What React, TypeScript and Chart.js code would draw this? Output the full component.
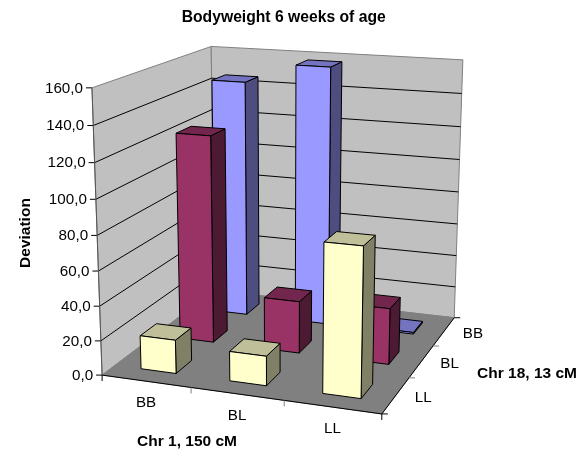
import React, { useEffect, useRef } from "react";
import { Chart, BarController, BarElement, CategoryScale, LinearScale, Title } from "chart.js";

// Data
const chr1Categories = ["BB", "BL", "LL"];
const chr18Rows = ["LL", "BL", "BB"]; // front to back
const llValues = [19.5, 17, 84];
const blValues = [123.5, 31, 33];
const bbValues = [145.5, 157.5, 1];
const FONT = "'Liberation Sans', Arial, sans-serif";

// Camera calibration: positions in the unit cube (u, v, w) and where they land on the page
const calib: number[][] = [
  [0, 0, 0, 101.5, 375],
  [1, 0, 0, 381.7, 414],
  [1, 1, 0, 454, 317],
  [0, 1, 0, 206, 291],
  [0, 0, 1, 92, 87],
  [0, 1, 1, 211, 47],
  [1, 1, 1, 463, 60],
  [1 / 3, 0, 0, 190.7, 387.5],
  [2 / 3, 0, 0, 283.6, 400.5],
  [1, 1 / 3, 0, 410, 378],
  [1, 2 / 3, 0, 433, 346],
  [0.1, 0.1, 0, 140.7, 368.3],
  [0.2333, 0.1, 0, 176, 373.3],
  [0.4333, 0.1, 0, 229.3, 381.7],
  [0.5667, 0.1, 0, 266.7, 386],
  [0.7667, 0.1, 0, 322, 394],
  [0.9, 0.1, 0, 360.7, 398.3],
  [0.2333, 0.4333, 0, 213.3, 341.7],
  [0.4333, 0.4333, 0, 264.3, 350],
  [0.5667, 0.4333, 0, 299, 352.7],
  [0.9, 0.4333, 0, 388.3, 364.3],
  [0.1, 0.7667, 0, 227, 311],
  [0.2333, 0.7667, 0, 246.7, 312.7],
];

function solveCamera(points: number[][]) {
  const rows: number[][] = [];
  for (const [u, v, w, x, y] of points) {
    rows.push([u, v, w, 1, 0, 0, 0, 0, -x * u, -x * v, -x * w, x]);
    rows.push([0, 0, 0, 0, u, v, w, 1, -y * u, -y * v, -y * w, y]);
  }
  const n = 11;
  const M: number[][] = [];
  for (let i = 0; i < n; i++) {
    const r = new Array(n + 1).fill(0);
    for (let j = 0; j <= n; j++) for (const row of rows) r[j] += row[i] * row[j];
    M.push(r);
  }
  for (let c = 0; c < n; c++) {
    let p = c;
    for (let i = c + 1; i < n; i++) if (Math.abs(M[i][c]) > Math.abs(M[p][c])) p = i;
    [M[c], M[p]] = [M[p], M[c]];
    for (let i = 0; i < n; i++) {
      if (i === c) continue;
      const f = M[i][c] / M[c][c];
      for (let j = c; j <= n; j++) M[i][j] -= f * M[c][j];
    }
  }
  return M.map((r, i) => r[n] / r[i]);
}
const cam = solveCamera(calib);
function project(u: number, v: number, w: number): [number, number] {
  const d = cam[8] * u + cam[9] * v + cam[10] * w + 1;
  return [
    (cam[0] * u + cam[1] * v + cam[2] * w + cam[3]) / d,
    (cam[4] * u + cam[5] * v + cam[6] * w + cam[7]) / d,
  ];
}

function poly(ctx: CanvasRenderingContext2D, pts: [number, number][], fill: string, stroke: string) {
  ctx.beginPath();
  pts.forEach((p, i) => (i ? ctx.lineTo(p[0], p[1]) : ctx.moveTo(p[0], p[1])));
  ctx.closePath();
  ctx.fillStyle = fill;
  ctx.fill();
  ctx.strokeStyle = stroke;
  ctx.lineWidth = 1;
  ctx.stroke();
}

function seg(ctx: CanvasRenderingContext2D, pts: [number, number][], stroke: string) {
  ctx.beginPath();
  pts.forEach((p, i) => (i ? ctx.lineTo(p[0], p[1]) : ctx.moveTo(p[0], p[1])));
  ctx.strokeStyle = stroke;
  ctx.lineWidth = 1;
  ctx.stroke();
}

// A bar element that draws itself as a box in the projected cube
class Bar3DElement extends BarElement {
  static id = "bar3dElement";
  static defaults = { ...BarElement.defaults };
  drawBox(ctx: CanvasRenderingContext2D, chart: any, datasetIndex: number) {
    const me: any = this;
    const a = chart.chartArea;
    const ds = chart.data.datasets[datasetIndex];
    const uc = (me.x - a.left) / a.width;
    const du = me.width / a.width / 2;
    const vc = (datasetIndex + 0.5) / chr18Rows.length;
    const dv = du;
    const h = (me.base - me.y) / a.height;
    const u0 = uc - du, u1 = uc + du, v0 = vc - dv, v1 = vc + dv;
    ctx.save();
    ctx.lineJoin = "round";
    poly(ctx, [project(u1, v0, 0), project(u1, v1, 0), project(u1, v1, h), project(u1, v0, h)], ds.sideColor, "#000");
    poly(ctx, [project(u0, v0, h), project(u1, v0, h), project(u1, v1, h), project(u0, v1, h)], ds.topColor, "#000");
    poly(ctx, [project(u0, v0, 0), project(u1, v0, 0), project(u1, v0, h), project(u0, v0, h)], ds.backgroundColor, "#000");
    ctx.restore();
  }
}

class Bar3DController extends BarController {
  static id = "bar3d";
  static defaults = { ...BarController.defaults, dataElementType: "bar3dElement" };
  static overrides = BarController.overrides;
  draw() {
    const me: any = this;
    me._cachedMeta.data.forEach((el: any) => el.drawBox(me.chart.ctx, me.chart, me.index));
  }
}

const cubePlugin = {
  id: "cube",
  beforeDatasetsDraw(chart: any) {
    const ctx: CanvasRenderingContext2D = chart.ctx;
    const yScale = chart.scales.y;
    const a = chart.chartArea;
    const frac = (v: number) => (a.bottom - yScale.getPixelForValue(v)) / a.height;
    ctx.save();
    ctx.lineJoin = "round";
    poly(ctx, [project(0, 0, 0), project(0, 1, 0), project(0, 1, 1), project(0, 0, 1)], "#c0c0c0", "#808080");
    poly(ctx, [project(0, 1, 0), project(1, 1, 0), project(1, 1, 1), project(0, 1, 1)], "#c0c0c0", "#808080");
    poly(ctx, [project(0, 0, 0), project(1, 0, 0), project(1, 1, 0), project(0, 1, 0)], "#808080", "#808080");
    // value grid, ticks and labels
    ctx.font = `15.2px ${FONT}`;
    ctx.textAlign = "right";
    ctx.textBaseline = "middle";
    for (const t of yScale.ticks) {
      const w = frac(t.value);
      const p = project(0, 0, w);
      if (t.value > 0 && t.value < yScale.max) {
        seg(ctx, [p, project(0, 1, w), project(1, 1, w)], "#000");
      }
      seg(ctx, [[p[0] - 6, p[1]], p], "#000");
      ctx.fillStyle = "#000";
      ctx.fillText(t.label, p[0] - 9, p[1] + 0.5);
    }
    // floor edges
    seg(ctx, [project(0, 0, 0), project(1, 0, 0), project(1, 1, 0)], "#000");
    seg(ctx, [project(0, 0, 0), project(0, 0, 1)], "#555");
    // category axis
    const xs = chart.scales.x;
    const n = chr1Categories.length;
    ctx.textAlign = "center";
    for (let i = 0; i <= n; i++) {
      const p = project(i / n, 0, 0);
      seg(ctx, [p, [p[0], p[1] + 6]], i % n === 0 ? "#000" : "#808080");
    }
    chr1Categories.forEach((c, i) => {
      const u = (xs.getPixelForValue(i) - a.left) / a.width;
      const p = project(u, 0, 0);
      ctx.fillStyle = "#000";
      ctx.fillText(c, p[0], p[1] + 22);
    });
    // depth axis
    ctx.textAlign = "left";
    const m = chr18Rows.length;
    for (let i = 0; i <= m; i++) {
      const p = project(1, i / m, 0);
      seg(ctx, [p, [p[0] + 6, p[1]]], i % m === 0 ? "#000" : "#808080");
    }
    chr18Rows.forEach((c, i) => {
      const p = project(1, (i + 0.5) / m, 0);
      ctx.fillStyle = "#000";
      ctx.fillText(c, p[0] + 19, p[1] + 2);
    });
    // axis names for the two floor axes
    ctx.font = `bold 15.5px ${FONT}`;
    ctx.textAlign = "center";
    ctx.fillText("Chr 1, 150 cM", 187, 442);
    ctx.fillText("Chr 18, 13 cM", 527, 373.5);
    ctx.restore();
  },
};

Chart.register(Bar3DController, Bar3DElement, CategoryScale, LinearScale, Title);

export default function App() {
  const ref = useRef<HTMLCanvasElement>(null);
  useEffect(() => {
    document.body.style.margin = "0";
    const chart = new Chart(ref.current!, {
      type: "bar3d" as any,
      data: {
        labels: chr1Categories,
        datasets: [
          { label: "LL", data: llValues, backgroundColor: "#ffffcc", topColor: "#bfbf99", sideColor: "#808066", clip: false },
          { label: "BL", data: blValues, backgroundColor: "#993366", topColor: "#73264d", sideColor: "#4d1a33", clip: false },
          { label: "BB", data: bbValues, backgroundColor: "#9999ff", topColor: "#7373bf", sideColor: "#4d4d80", clip: false },
        ] as any,
      },
      options: {
        animation: false,
        responsive: false,
        grouped: false,
        barPercentage: 0.4,
        categoryPercentage: 1,
        layout: { padding: { left: 16, right: 112.6, top: 0, bottom: 76 } },
        scales: {
          x: { display: false, offset: true },
          y: {
            min: 0,
            max: 160,
            grid: { display: false, drawTicks: false },
            border: { display: false },
            ticks: { display: false, stepSize: 20, callback: (v: any) => Number(v).toFixed(1).replace(".", ",") },
            title: {
              display: true,
              text: "Deviation",
              color: "#000",
              font: { family: FONT, size: 15.5, weight: "bold" },
              padding: { top: 0, bottom: 57.4 },
            },
          },
        },
        plugins: {
          legend: { display: false },
          tooltip: { enabled: false },
          title: {
            display: true,
            fullSize: false,
            text: "Bodyweight 6 weeks of age",
            color: "#000",
            font: { family: FONT, size: 15.7, weight: "bold" },
            padding: { top: 8, bottom: 60.2 },
          },
        },
      } as any,
      plugins: [cubePlugin],
    });
    return () => chart.destroy();
  }, []);
  return <canvas ref={ref} width={588} height={455} style={{ display: "block" }} />;
}
